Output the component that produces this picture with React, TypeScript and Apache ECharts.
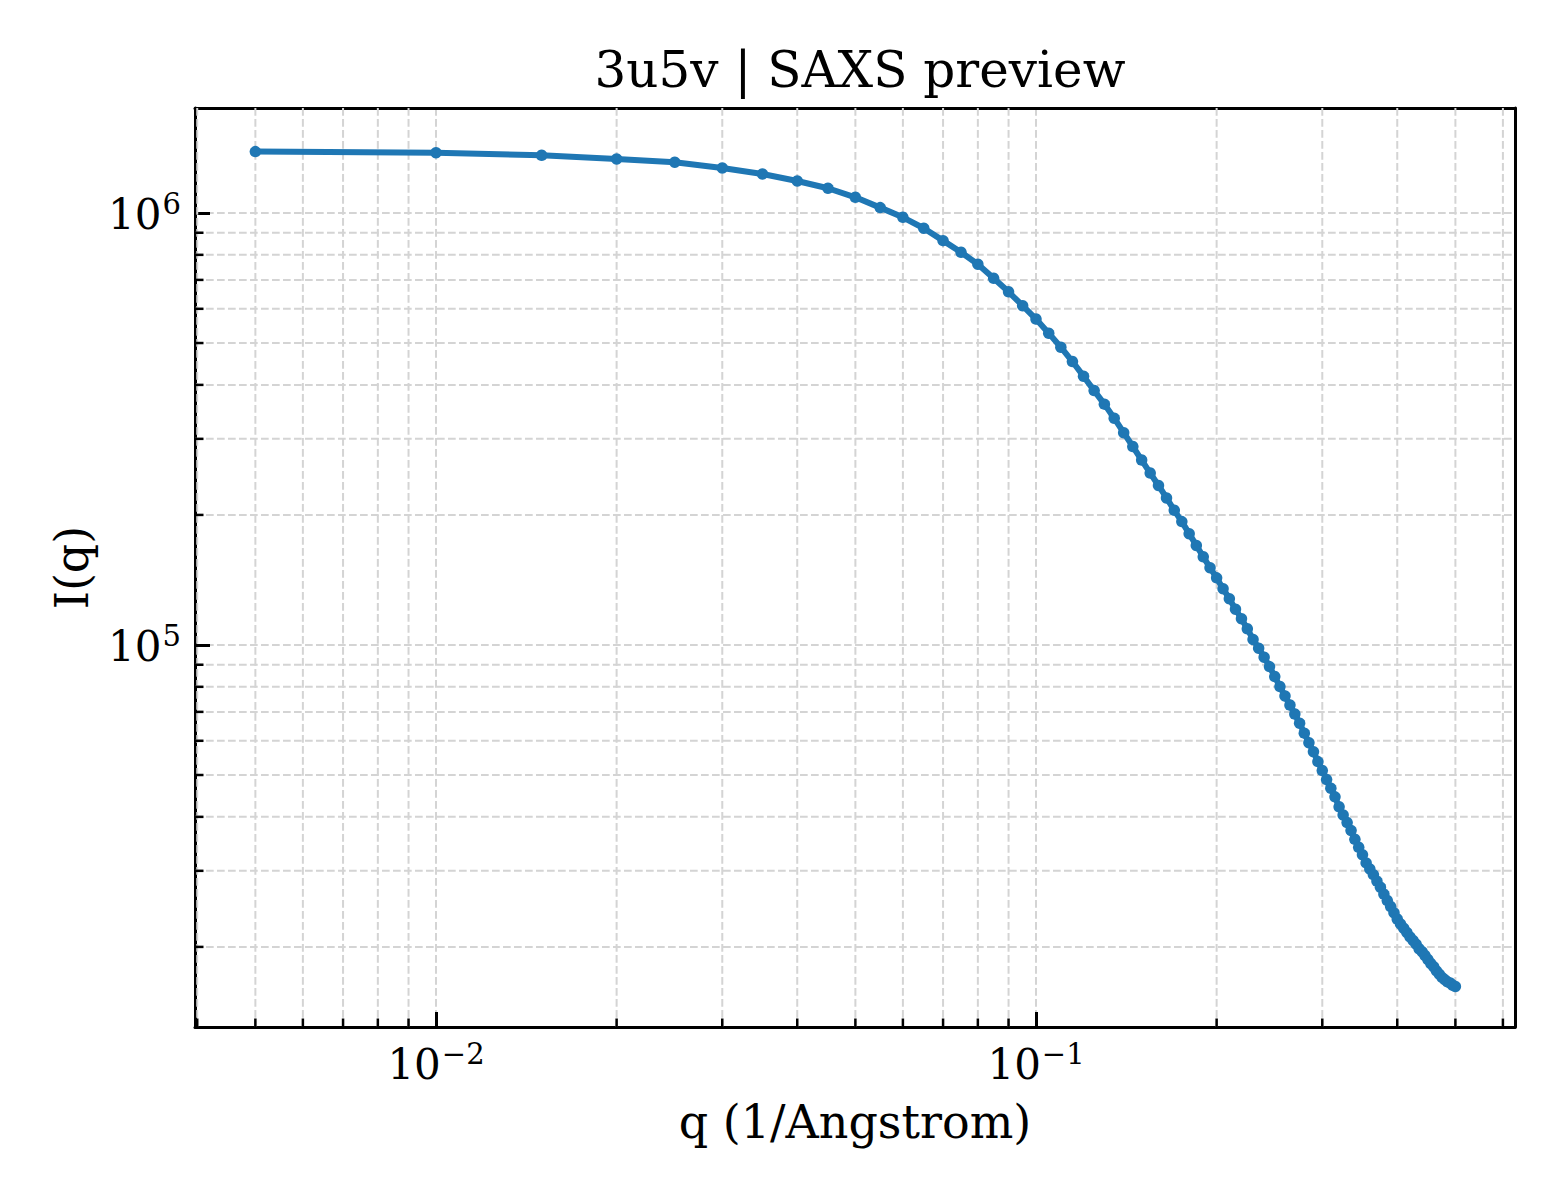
import React, { useEffect, useRef } from 'react';
import * as echarts from 'echarts';

// q in 1/Angstrom
const qValues = [
    0.005, 0.010, 0.015, 0.020, 0.025, 0.030, 0.035, 0.040, 0.045, 0.050,
    0.055, 0.060, 0.065, 0.070, 0.075, 0.080, 0.085, 0.090, 0.095, 0.100,
    0.105, 0.110, 0.115, 0.120, 0.125, 0.130, 0.135, 0.140, 0.145, 0.150,
    0.155, 0.160, 0.165, 0.170, 0.175, 0.180, 0.185, 0.190, 0.195, 0.200,
    0.205, 0.210, 0.215, 0.220, 0.225, 0.230, 0.235, 0.240, 0.245, 0.250,
    0.255, 0.260, 0.265, 0.270, 0.275, 0.280, 0.285, 0.290, 0.295, 0.300,
    0.305, 0.310, 0.315, 0.320, 0.325, 0.330, 0.335, 0.340, 0.345, 0.350,
    0.355, 0.360, 0.365, 0.370, 0.375, 0.380, 0.385, 0.390, 0.395, 0.400,
    0.405, 0.410, 0.415, 0.420, 0.425, 0.430, 0.435, 0.440, 0.445, 0.450,
    0.455, 0.460, 0.465, 0.470, 0.475, 0.480, 0.485, 0.490, 0.495, 0.500
];

// I(q)
const intensity = [
    1387000, 1379000, 1360000, 1334000, 1311000, 1271000, 1231000, 1186000, 1141000, 1087000,
    1029000, 977000, 922000, 863000, 811000, 761000, 706000, 657000, 610000, 568000,
    527000, 489000, 453000, 419000, 388000, 361000, 335000, 310000, 288000, 268000,
    250000, 234000, 219000, 205000, 193000, 181000, 170000, 160000, 151000, 143000,
    135000, 128000, 121000, 115000, 109000, 103000, 98300, 93700, 89100, 84500,
    80100, 76200, 72600, 69200, 65900, 62500, 59400, 56600, 53700, 51200,
    48800, 46600, 44500, 42200, 40400, 38800, 37200, 35500, 34000, 32700,
    31300, 30300, 29400, 28400, 27500, 26500, 25600, 24800, 24000, 23200,
    22600, 22100, 21600, 21100, 20700, 20300, 19800, 19500, 19100, 18700,
    18300, 18000, 17600, 17300, 17000, 16800, 16600, 16500, 16300, 16200
];

// minor ticks / minor grid
const xMinorTicks = [
    0.004, 0.005, 0.006, 0.007, 0.008, 0.009,
    0.02, 0.03, 0.04, 0.05, 0.06, 0.07, 0.08, 0.09,
    0.2, 0.3, 0.4, 0.5, 0.6
];
const yMinorTicks = [
    20000, 30000, 40000, 50000, 60000, 70000, 80000, 90000,
    200000, 300000, 400000, 500000, 600000, 700000, 800000, 900000
];

const xRange = [0.003966, 0.6285];
const yRange = [13050, 1750000];

const FONT = 'DejaVu Serif';
const GRID_COLOR = '#d4d4d4';
const GRID_DASH = [7.7, 3.3];

const powLabel = (v: number) => {
    const e = Math.round(Math.log10(v));
    const s = e < 0 ? '\u2212' + -e : String(e);
    return `{b|10}{s|${s}}`;
};

const labelRich = {
    b: { fontSize: 42, fontFamily: FONT, color: '#000', lineHeight: 46, verticalAlign: 'bottom' },
    s: { fontSize: 29, fontFamily: FONT, color: '#000', lineHeight: 46, verticalAlign: 'top', padding: [0, 0, 0, 1] }
};

// plain axis used only to draw the top / right spine
const spine = (position: string, type: string, range: number[]) => ({
    type,
    position,
    min: range[0],
    max: range[1],
    axisLine: { show: true, lineStyle: { color: '#000', width: 3 } },
    axisTick: { show: false },
    axisLabel: { show: false },
    splitLine: { show: false }
});

const SaxsChart = () => {
    const chartRef = useRef<HTMLDivElement>(null);

    useEffect(() => {
        if (!chartRef.current) return;
        const myChart = echarts.init(chartRef.current, null, { renderer: 'svg' });

        const option = {
            animation: false,
            backgroundColor: '#fff',
            title: {
                text: '3u5v | SAXS preview',
                left: 855,
                top: 40,
                textAlign: 'center',
                textStyle: { fontFamily: FONT, fontSize: 50, fontWeight: 'normal', color: '#000' }
            },
            grid: {
                left: 195,
                top: 108,
                width: 1320,
                height: 919,
                show: false
            },
            xAxis: [
                {
                    type: 'log',
                    logBase: 10,
                    min: xRange[0],
                    max: xRange[1],
                    name: 'q (1/Angstrom)',
                    nameLocation: 'middle',
                    nameGap: 72,
                    nameTextStyle: { fontFamily: FONT, fontSize: 46, color: '#000' },
                    axisLine: { show: true, lineStyle: { color: '#000', width: 3 } },
                    axisTick: { show: true, inside: true, length: 15, lineStyle: { color: '#000', width: 3 } },
                    axisLabel: {
                        margin: 12,
                        showMinLabel: false,
                        showMaxLabel: false,
                        formatter: powLabel,
                        rich: labelRich
                    },
                    splitLine: { show: true, lineStyle: { color: GRID_COLOR, width: 2, type: GRID_DASH } },
                    minorTick: { show: false },
                    minorSplitLine: { show: false }
                },
                spine('top', 'log', xRange)
            ],
            yAxis: [
                {
                    type: 'log',
                    logBase: 10,
                    min: yRange[0],
                    max: yRange[1],
                    name: 'I(q)',
                    nameLocation: 'middle',
                    nameGap: 100,
                    nameTextStyle: { fontFamily: FONT, fontSize: 46, color: '#000' },
                    axisLine: { show: true, lineStyle: { color: '#000', width: 3 } },
                    axisTick: { show: true, inside: true, length: 15, lineStyle: { color: '#000', width: 3 } },
                    axisLabel: {
                        margin: 14,
                        showMinLabel: false,
                        showMaxLabel: false,
                        formatter: powLabel,
                        rich: labelRich
                    },
                    splitLine: { show: true, lineStyle: { color: GRID_COLOR, width: 2, type: GRID_DASH } },
                    minorTick: { show: false },
                    minorSplitLine: { show: false }
                },
                spine('right', 'log', yRange)
            ],
            series: [
                {
                    // minor x grid lines and ticks
                    type: 'custom',
                    silent: true,
                    z: 1,
                    data: xMinorTicks.map((v) => [v, yRange[0]]),
                    renderItem: (params: any, api: any) => {
                        const p = api.coord([api.value(0), api.value(1)]);
                        const cs = params.coordSys;
                        const bottom = cs.y + cs.height;
                        return {
                            type: 'group',
                            children: [
                                {
                                    type: 'line',
                                    shape: { x1: p[0], y1: cs.y, x2: p[0], y2: bottom },
                                    style: { stroke: GRID_COLOR, lineWidth: 2, lineDash: GRID_DASH }
                                },
                                {
                                    type: 'line',
                                    shape: { x1: p[0], y1: bottom, x2: p[0], y2: bottom - 8.5 },
                                    style: { stroke: '#000', lineWidth: 2.5 }
                                }
                            ]
                        };
                    }
                },
                {
                    // minor y grid lines and ticks
                    type: 'custom',
                    silent: true,
                    z: 1,
                    data: yMinorTicks.map((v) => [xRange[0], v]),
                    renderItem: (params: any, api: any) => {
                        const p = api.coord([api.value(0), api.value(1)]);
                        const cs = params.coordSys;
                        return {
                            type: 'group',
                            children: [
                                {
                                    type: 'line',
                                    shape: { x1: cs.x, y1: p[1], x2: cs.x + cs.width, y2: p[1] },
                                    style: { stroke: GRID_COLOR, lineWidth: 2, lineDash: GRID_DASH }
                                },
                                {
                                    type: 'line',
                                    shape: { x1: cs.x, y1: p[1], x2: cs.x + 8.5, y2: p[1] },
                                    style: { stroke: '#000', lineWidth: 2.5 }
                                }
                            ]
                        };
                    }
                },
                {
                    name: '3u5v',
                    type: 'line',
                    z: 5,
                    data: qValues.map((q, i) => [q, intensity[i]]),
                    symbol: 'circle',
                    symbolSize: 11.5,
                    showSymbol: true,
                    showAllSymbol: true,
                    lineStyle: { color: '#1f77b4', width: 6 },
                    itemStyle: { color: '#1f77b4' },
                    emphasis: { disabled: true }
                }
            ]
        };

        myChart.setOption(option);

        return () => {
            myChart.dispose();
        };
    }, []);

    return (
        <div
            ref={chartRef}
            style={{ position: 'fixed', left: 0, top: 0, width: '1560px', height: '1200px', background: '#fff' }}
        />
    );
};

export default function App() {
    return <SaxsChart />;
}
